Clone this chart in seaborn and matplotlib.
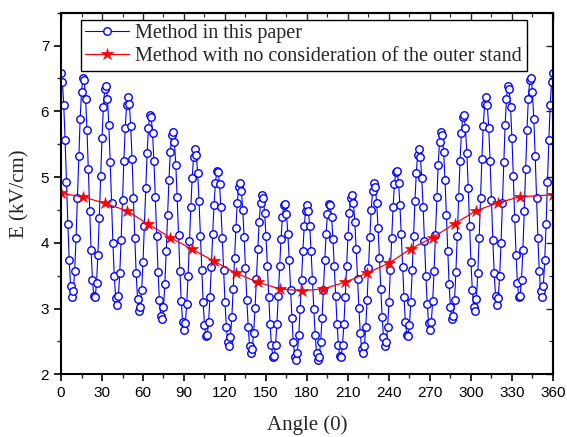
import numpy as np
import matplotlib
matplotlib.use('Agg')
import matplotlib.pyplot as plt
import seaborn as sns
from matplotlib.ticker import MultipleLocator

# blue series: one point per degree, 0..360
angle = np.arange(0, 361)
e_paper = [
    6.58, 6.45, 6.10, 5.56, 4.93, 4.29, 3.74, 3.35, 3.18, 3.26, 3.57, 4.07, 4.68, 5.32, 5.88, 6.30,
    6.51, 6.47, 6.19, 5.72, 5.12, 4.48, 3.89, 3.44, 3.19, 3.17, 3.39, 3.82, 4.38, 5.01, 5.59, 6.06,
    6.34, 6.39, 6.19, 5.79, 5.23, 4.60, 3.99, 3.49, 3.16, 3.06, 3.19, 3.54, 4.05, 4.65, 5.25, 5.75,
    6.09, 6.22, 6.11, 5.78, 5.28, 4.68, 4.07, 3.54, 3.15, 2.97, 3.02, 3.28, 3.71, 4.26, 4.84, 5.36,
    5.74, 5.94, 5.91, 5.67, 5.24, 4.70, 4.11, 3.56, 3.13, 2.88, 2.84, 3.02, 3.38, 3.88, 4.43, 4.96,
    5.38, 5.64, 5.69, 5.53, 5.18, 4.69, 4.12, 3.57, 3.11, 2.80, 2.68, 2.78, 3.07, 3.50, 4.02, 4.54,
    4.99, 5.30, 5.42, 5.34, 5.06, 4.63, 4.11, 3.58, 3.10, 2.75, 2.58, 2.60, 2.80, 3.17, 3.63, 4.13,
    4.58, 4.91, 5.09, 5.08, 4.89, 4.54, 4.08, 3.58, 3.10, 2.72, 2.49, 2.43, 2.57, 2.87, 3.29, 3.77,
    4.23, 4.61, 4.85, 4.91, 4.79, 4.50, 4.09, 3.61, 3.13, 2.72, 2.43, 2.32, 2.39, 2.63, 3.01, 3.45,
    3.91, 4.32, 4.60, 4.73, 4.68, 4.46, 4.10, 3.65, 3.18, 2.76, 2.44, 2.27, 2.28, 2.45, 2.77, 3.19,
    3.64, 4.06, 4.39, 4.57, 4.59, 4.44, 4.14, 3.74, 3.28, 2.85, 2.49, 2.27, 2.21, 2.33, 2.60, 2.99,
    3.44, 3.88, 4.25, 4.49, 4.58,
    4.49, 4.25, 3.88, 3.44, 2.99, 2.60, 2.33, 2.21, 2.27, 2.49, 2.85, 3.28, 3.74, 4.14, 4.44, 4.59,
    4.57, 4.39, 4.06, 3.64, 3.19, 2.77, 2.45, 2.28, 2.27, 2.44, 2.76, 3.18, 3.65, 4.10, 4.46, 4.68,
    4.73, 4.60, 4.32, 3.91, 3.45, 3.01, 2.63, 2.39, 2.32, 2.43, 2.72, 3.13, 3.61, 4.09, 4.50, 4.79,
    4.91, 4.85, 4.61, 4.23, 3.77, 3.29, 2.87, 2.57, 2.43, 2.49, 2.72, 3.10, 3.58, 4.08, 4.54, 4.89,
    5.08, 5.09, 4.91, 4.58, 4.13, 3.63, 3.17, 2.80, 2.60, 2.58, 2.75, 3.10, 3.58, 4.11, 4.63, 5.06,
    5.34, 5.42, 5.30, 4.99, 4.54, 4.02, 3.50, 3.07, 2.78, 2.68, 2.80, 3.11, 3.57, 4.12, 4.69, 5.18,
    5.53, 5.69, 5.64, 5.38, 4.96, 4.43, 3.88, 3.38, 3.02, 2.84, 2.88, 3.13, 3.56, 4.11, 4.70, 5.24,
    5.67, 5.91, 5.94, 5.74, 5.36, 4.84, 4.26, 3.71, 3.28, 3.02, 2.97, 3.15, 3.54, 4.07, 4.68, 5.28,
    5.78, 6.11, 6.22, 6.09, 5.75, 5.25, 4.65, 4.05, 3.54, 3.19, 3.06, 3.16, 3.49, 3.99, 4.60, 5.23,
    5.79, 6.19, 6.39, 6.34, 6.06, 5.59, 5.01, 4.38, 3.82, 3.39, 3.17, 3.19, 3.44, 3.89, 4.48, 5.12,
    5.72, 6.19, 6.47, 6.51, 6.30, 5.88, 5.32, 4.68, 4.07, 3.57, 3.26, 3.18, 3.35, 3.74, 4.29, 4.93,
    5.56, 6.10, 6.45, 6.58,
]

# red series
angle_outer = [0, 16, 32, 48, 64, 80, 96, 112, 128, 144, 160, 176,
               192, 208, 224, 240, 256, 272, 288, 304, 320, 336, 360]
e_outer = [4.75, 4.70, 4.60, 4.49, 4.28, 4.08, 3.90, 3.72, 3.54, 3.40, 3.30, 3.27,
           3.30, 3.40, 3.54, 3.69, 3.91, 4.08, 4.29, 4.49, 4.61, 4.70, 4.73]

sns.set_style('ticks')
plt.rcParams['font.family'] = ['Liberation Sans', 'DejaVu Sans']

fig = plt.figure(figsize=(5.67, 4.37), dpi=100)
ax = fig.add_axes([0.1076, 0.1435, 0.8676, 0.8275])

sns.lineplot(x=angle, y=e_paper, ax=ax, color='#0000ff', linewidth=0.8,
             marker='o', markersize=5.4, markerfacecolor='white',
             markeredgecolor='#0000ff', markeredgewidth=1.0,
             label='Method in this paper')
sns.lineplot(x=angle_outer, y=e_outer, ax=ax, color='#ff0000', linewidth=0.9,
             marker='*', markersize=9, markerfacecolor='#ff0000',
             markeredgecolor='#ff0000', markeredgewidth=0.5,
             label='Method with no consideration of the outer stand')

ax.set_xlim(0, 360)
ax.set_ylim(2, 7.5)
ax.xaxis.set_major_locator(MultipleLocator(30))
ax.xaxis.set_minor_locator(MultipleLocator(15))
ax.yaxis.set_major_locator(MultipleLocator(1))
ax.yaxis.set_minor_locator(MultipleLocator(0.5))
ax.tick_params(which='major', direction='out', length=5, width=1.2, labelsize=11, colors='black')
ax.tick_params(which='minor', direction='out', length=3, width=1.0)

# mirrored ticks on top and right, pointing inward
top = ax.secondary_xaxis('top')
top.xaxis.set_major_locator(MultipleLocator(30))
top.xaxis.set_minor_locator(MultipleLocator(15))
top.tick_params(which='major', direction='in', length=5, width=1.0, labeltop=False)
top.tick_params(which='minor', direction='in', length=3, width=0.8)
right = ax.secondary_yaxis('right')
right.yaxis.set_major_locator(MultipleLocator(1))
right.yaxis.set_minor_locator(MultipleLocator(0.5))
right.tick_params(which='major', direction='in', length=5, width=1.0, labelright=False)
right.tick_params(which='minor', direction='in', length=3, width=0.8)

for sp in ax.spines.values():
    sp.set_visible(True)
    sp.set_linewidth(1.5)
    sp.set_color('black')
for sax in (top, right):
    for sp in sax.spines.values():
        sp.set_linewidth(1.5)

ax.set_xlabel('Angle (0)', family='Liberation Serif', fontsize=15, labelpad=11)
ax.set_ylabel('E (kV/cm)', family='Liberation Serif', fontsize=15, labelpad=8)

leg = ax.legend(loc='upper left', bbox_to_anchor=(0.04, 0.98), frameon=True, fancybox=False,
                edgecolor='black', framealpha=1, handlelength=2.2, borderpad=0.22,
                labelspacing=0.18, handletextpad=0.3, borderaxespad=0.0,
                prop={'family': 'Liberation Serif', 'size': 14.5})
leg.get_frame().set_linewidth(1.0)

plt.savefig('out.png', dpi=100)
